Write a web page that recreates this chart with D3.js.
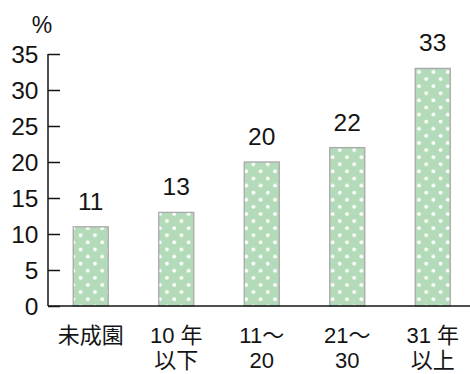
<!DOCTYPE html>
<html>
<head>
<meta charset="utf-8">
<script src="https://cdn.jsdelivr.net/npm/d3@7"></script>
<style>
  html, body { margin: 0; padding: 0; background: #fff; }
  svg text { font-family: "Liberation Sans", Arial, "Noto Sans CJK JP", sans-serif; fill: #141414; }
</style>
</head>
<body>
<svg id="chart" width="470" height="374"></svg>
<script>
// Share (%) by orchard age
const categories = [["未成園"], ["10 年", "以下"], ["11〜", "20"], ["21〜", "30"], ["31 年", "以上"]];
const values = [11, 13, 20, 22, 33];
const yTicks = [0, 5, 10, 15, 20, 25, 30, 35];
const unitLabel = "%";

const svg = d3.select("#chart");
const x0 = 48, x1 = 475.5, axisEnd = 470;
const yBase = 306, yTop = 54;

const x = d3.scaleBand()
  .domain(d3.range(values.length))
  .range([x0, x1])
  .paddingInner(0.59)
  .paddingOuter(0.295);

const y = d3.scaleLinear().domain([0, 35]).range([yBase, yTop]);

// polka-dot fill for bars
const defs = svg.append("defs");
const pat = defs.append("pattern")
  .attr("id", "dots")
  .attr("patternUnits", "userSpaceOnUse")
  .attr("width", 14.4).attr("height", 14.2)
  .attr("x", 5).attr("y", 4.5);
pat.append("rect").attr("width", 14.4).attr("height", 14.2).attr("fill", "#b4dbb9");
pat.append("circle").attr("cx", 3.6).attr("cy", 3.55).attr("r", 1.9).attr("fill", "#fff");
pat.append("circle").attr("cx", 10.8).attr("cy", 10.65).attr("r", 1.9).attr("fill", "#fff");

// bars
svg.append("g").selectAll("rect")
  .data(values)
  .join("rect")
  .attr("x", (d, i) => x(i))
  .attr("y", d => y(d))
  .attr("width", x.bandwidth())
  .attr("height", d => yBase - y(d))
  .attr("fill", "url(#dots)")
  .attr("stroke", "#a9a9a9")
  .attr("stroke-width", 1.3);

// value labels
svg.append("g").selectAll("text")
  .data(values)
  .join("text")
  .attr("x", (d, i) => x(i) + x.bandwidth() / 2)
  .attr("y", d => y(d) - 17)
  .attr("text-anchor", "middle")
  .attr("font-size", 24.5)
  .text(d => d);

// y axis with inward ticks
const yAxis = d3.axisRight(y).tickValues(yTicks).tickSize(12).tickFormat("");
const gy = svg.append("g").attr("transform", `translate(${x0},0)`).call(yAxis);
gy.select(".domain").remove();
gy.selectAll(".tick line").attr("stroke", "#141414").attr("stroke-width", 1.5);
svg.append("line")
  .attr("x1", x0).attr("x2", x0)
  .attr("y1", y(35)).attr("y2", yBase)
  .attr("stroke", "#141414").attr("stroke-width", 1.5);

// y tick labels
svg.append("g").selectAll("text")
  .data(yTicks)
  .join("text")
  .attr("x", 38.5)
  .attr("y", d => y(d))
  .attr("dy", "0.36em")
  .attr("text-anchor", "end")
  .attr("font-size", 24.5)
  .text(d => d);

// baseline
svg.append("line")
  .attr("x1", x0).attr("x2", axisEnd)
  .attr("y1", yBase).attr("y2", yBase)
  .attr("stroke", "#141414").attr("stroke-width", 1.5);

// unit label
svg.append("text")
  .attr("x", 42).attr("y", 33)
  .attr("text-anchor", "middle")
  .attr("font-size", 23)
  .text(unitLabel);

// category labels
const cat = svg.append("g").selectAll("text")
  .data(categories)
  .join("text")
  .attr("text-anchor", "middle")
  .attr("font-size", 22);
cat.each(function(lines, i) {
  d3.select(this).selectAll("tspan")
    .data(lines)
    .join("tspan")
    .attr("x", x(i) + x.bandwidth() / 2)
    .attr("y", (d, j) => 343 + j * 25)
    .text(d => d);
});
</script>
</body>
</html>
